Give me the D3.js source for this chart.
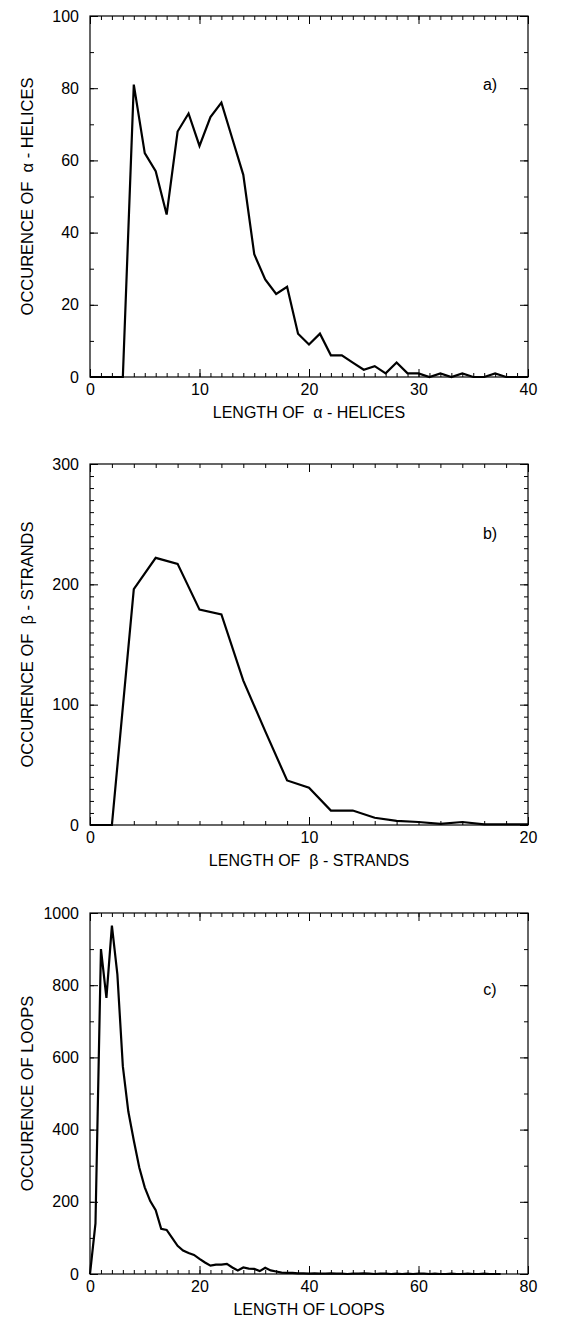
<!DOCTYPE html>
<html><head><meta charset="utf-8">
<script src="https://cdn.jsdelivr.net/npm/d3@7"></script>
<style>body{margin:0;background:#fff}svg{display:block}text{white-space:pre}</style>
</head><body>
<svg id="chart" width="576" height="1325"></svg>
<script>
// ---- Panel a: alpha helices ----
const helixLength = [0,1,2,3,4,5,6,7,8,9,10,11,12,13,14,15,16,17,18,19,20,21,22,23,24,25,26,27,28,29,30,31,32,33,34,35,36,37,38,39,40];
const helixCount  = [0,0,0,0,81,62,57,45,68,73,64,72,76,66,56,34,27,23,25,12,9,12,6,6,4,2,3,1,4,1,1,0,1,0,1,0,0,1,0,0,0];
const helixXTicks = [0,10,20,30,40];
const helixYTicks = [0,20,40,60,80,100];

// ---- Panel b: beta strands ----
const strandLength = [0,1,2,3,4,5,6,7,8,9,10,11,12,13,14,15,16,17,18,19,20];
const strandCount  = [0,0,196,222,217,179,175,120,78,37,31,12,12,6,3.5,2.5,1,2.5,0.5,0.5,0.5];
const strandXTicks = [0,10,20];
const strandYTicks = [0,100,200,300];

// ---- Panel c: loops ----
const loopLength = [0,1,2,3,4,5,6,7,8,9,10,11,12,13,14,15,16,17,18,19,20,21,22,23,24,25,26,27,28,29,30,31,32,33,34,35,36,37,38,39,40,41,42,43,44,45,46,47,48,49,50,51,52,53,54,55,56,57,58,59,60,61,62,63,64,65,66,67,68,69,70,71,72,73,74,75];
const loopCount  = [0,140,900,765,965,830,575,450,370,295,240,202,177,125,122,100,78,65,58,53,42,32,23,26,26,28,18,10,18,15,14,8,17,10,7,4,3,3,2,2,1,2,1,1,2,1,1,0,1,1,2,1,0,1,1,0,1,0,1,0,1,1,0,1,0,0,1,0,0,1,0,0,1,0,0,0];
const loopXTicks = [0,20,40,60,80];
const loopYTicks = [0,200,400,600,800,1000];

const FONT = '"Liberation Sans", Arial, Helvetica, sans-serif';
const L = 90, R = 528;

const panels = [
  {top:16, bottom:377, xDom:[0,40], yDom:[0,100], xs:helixLength, ys:helixCount,
   xMaj:helixXTicks, xMinStep:1, yMaj:helixYTicks, yMinStep:10,
   xTitle:"LENGTH OF  α - HELICES", yTitle:"OCCURENCE OF  α - HELICES", tag:"a)", tagDy:69},
  {top:464, bottom:825, xDom:[0,20], yDom:[0,300], xs:strandLength, ys:strandCount,
   xMaj:strandXTicks, xMinStep:1, yMaj:strandYTicks, yMinStep:10,
   xTitle:"LENGTH OF  β - STRANDS", yTitle:"OCCURENCE OF  β - STRANDS", tag:"b)", tagDy:70},
  {top:913, bottom:1274, xDom:[0,80], yDom:[0,1000], xs:loopLength, ys:loopCount,
   xMaj:loopXTicks, xMinStep:2, yMaj:loopYTicks, yMinStep:100,
   xTitle:"LENGTH OF LOOPS", yTitle:"OCCURENCE OF LOOPS", tag:"c)", tagDy:77}
];

const svg = d3.select('#chart');
svg.append('rect').attr('width',576).attr('height',1325).attr('fill','#fff');

panels.forEach(p => {
  const g = svg.append('g');
  const x = d3.scaleLinear().domain(p.xDom).range([L, R]);
  const y = d3.scaleLinear().domain(p.yDom).range([p.bottom, p.top]);
  const minorX = d3.range(p.xDom[0], p.xDom[1] + 1e-9, p.xMinStep);
  const minorY = d3.range(p.yDom[0], p.yDom[1] + 1e-9, p.yMinStep);

  const style = sel => {
    sel.select('.domain').remove();
    sel.selectAll('line').attr('stroke','#000').attr('stroke-width',1);
    sel.selectAll('text').attr('font-family',FONT).attr('font-size',16).attr('fill','#000');
  };
  // minor ticks (all four sides, inward)
  g.append('g').attr('transform',`translate(0,${p.bottom})`)
    .call(d3.axisBottom(x).tickValues(minorX).tickSize(-4).tickFormat('')).call(style);
  g.append('g').attr('transform',`translate(0,${p.top})`)
    .call(d3.axisTop(x).tickValues(minorX).tickSize(-4).tickFormat('')).call(style);
  g.append('g').attr('transform',`translate(${L},0)`)
    .call(d3.axisLeft(y).tickValues(minorY).tickSize(-4).tickFormat('')).call(style);
  g.append('g').attr('transform',`translate(${R},0)`)
    .call(d3.axisRight(y).tickValues(minorY).tickSize(-4).tickFormat('')).call(style);
  // major ticks with labels
  g.append('g').attr('transform',`translate(0,${p.bottom})`)
    .call(d3.axisBottom(x).tickValues(p.xMaj).tickSizeInner(-8).tickSizeOuter(0).tickPadding(7).tickFormat(d3.format('d'))).call(style);
  g.append('g').attr('transform',`translate(0,${p.top})`)
    .call(d3.axisTop(x).tickValues(p.xMaj).tickSizeInner(-8).tickSizeOuter(0).tickFormat('')).call(style);
  g.append('g').attr('transform',`translate(${L},0)`)
    .call(d3.axisLeft(y).tickValues(p.yMaj).tickSizeInner(-8).tickSizeOuter(0).tickPadding(11).tickFormat(d3.format('d'))).call(style);
  g.append('g').attr('transform',`translate(${R},0)`)
    .call(d3.axisRight(y).tickValues(p.yMaj).tickSizeInner(-8).tickSizeOuter(0).tickFormat('')).call(style);

  // frame
  g.append('rect').attr('x',L).attr('y',p.top).attr('width',R-L).attr('height',p.bottom-p.top)
    .attr('fill','none').attr('stroke','#000').attr('stroke-width',1.2);

  // data line
  const line = d3.line().x((d,i)=>x(p.xs[i])).y(d=>y(d));
  g.append('path').datum(p.ys).attr('d',line)
    .attr('fill','none').attr('stroke','#000').attr('stroke-width',2.2).attr('stroke-linejoin','miter');

  // titles
  g.append('text').attr('x',(L+R)/2).attr('y',p.bottom+41).attr('text-anchor','middle')
    .attr('font-family',FONT).attr('font-size',16).text(p.xTitle);
  g.append('text').attr('transform',`translate(33,${(p.top+p.bottom)/2}) rotate(-90)`).attr('text-anchor','middle')
    .attr('font-family',FONT).attr('font-size',16.5).text(p.yTitle);
  g.append('text').attr('x',490).attr('y',p.top+p.tagDy+5).attr('text-anchor','middle')
    .attr('font-family',FONT).attr('font-size',16).text(p.tag);
});
</script>
</body></html>
